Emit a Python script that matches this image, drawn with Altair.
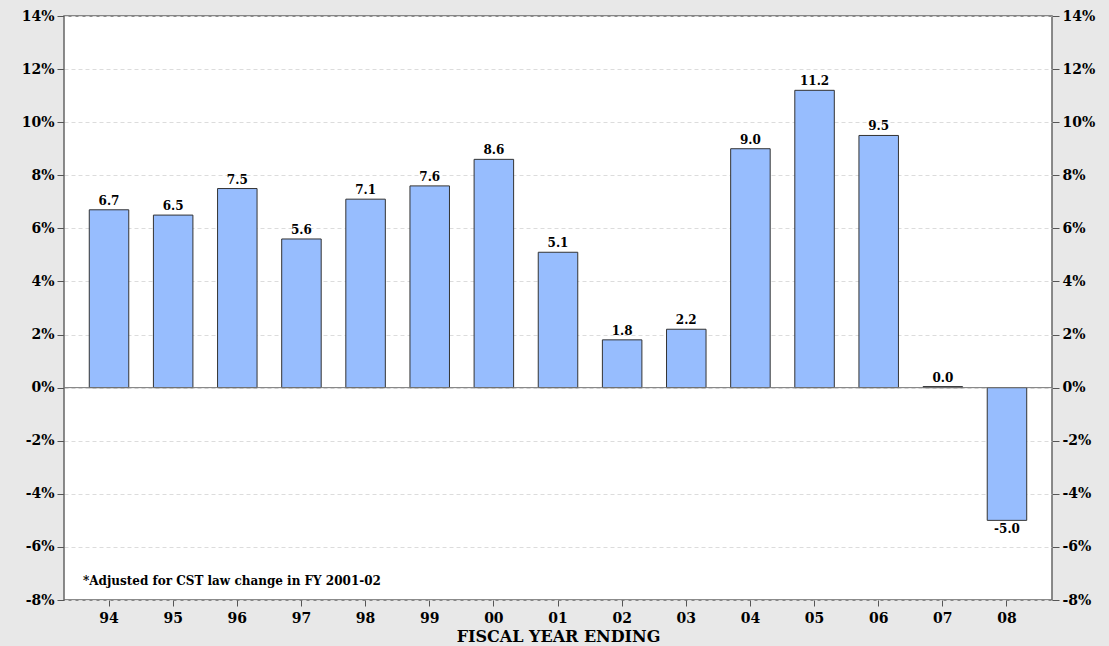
import altair as alt
import pandas as pd

years = ["94", "95", "96", "97", "98", "99", "00", "01", "02", "03", "04", "05", "06", "07", "08"]
values = [6.7, 6.5, 7.5, 5.6, 7.1, 7.6, 8.6, 5.1, 1.8, 2.2, 9.0, 11.2, 9.5, 0.04, -5.0]
y_ticks = [-8, -6, -4, -2, 0, 2, 4, 6, 8, 10, 12, 14]
footnote = "*Adjusted for CST law change in FY 2001-02"
x_title = "FISCAL YEAR ENDING"

df = pd.DataFrame({"year": years, "value": values})
df["pos"] = df["value"] >= 0
df["label"] = [f"{v:.1f}" for v in values]

FONT = "DejaVu Serif"

x_axis = alt.Axis(title=x_title, titleFont=FONT, titleFontSize=16, titleFontWeight="bold",
                  titleColor="#000", titlePadding=3,
                  labelFont=FONT, labelFontSize=14, labelFontWeight="bold", labelColor="#000",
                  labelAngle=0, labelPadding=5, tickColor="#555", tickSize=6,
                  domain=False, grid=False)
x_enc = alt.X("year:N", sort=years,
              scale=alt.Scale(paddingInner=0.384, paddingOuter=0.394),
              axis=x_axis)

yscale = alt.Scale(domain=[-8, 14], nice=False, zero=False)

def y_axis(orient, grid):
    return alt.Axis(orient=orient, values=y_ticks, labelExpr="datum.value + '%'",
                    labelFont=FONT, labelFontSize=14, labelFontWeight="bold", labelColor="#000",
                    tickColor="#555", tickSize=7, labelPadding=3,
                    domain=False, title=None,
                    grid=grid, gridColor="#dcdcdc", gridDash=[4, 3], gridWidth=1)

bars = alt.Chart(df).mark_bar(color="#97bdfe", stroke="#333", strokeWidth=1).encode(
    x=x_enc,
    y=alt.Y("value:Q", scale=yscale, axis=y_axis("left", True)),
)

zero = alt.Chart(pd.DataFrame({"z": [0]})).mark_rule(color="#777", strokeWidth=1).encode(
    y=alt.Y("z:Q", scale=yscale)
)

labels_pos = alt.Chart(df[df["pos"]]).mark_text(
    font=FONT, fontSize=12, fontWeight="bold", color="#000", baseline="bottom", dy=-2
).encode(
    x=x_enc,
    y=alt.Y("value:Q", scale=yscale),
    text="label:N",
)

labels_neg = alt.Chart(df[~df["pos"]]).mark_text(
    font=FONT, fontSize=12, fontWeight="bold", color="#000", baseline="top", dy=4
).encode(
    x=x_enc,
    y=alt.Y("value:Q", scale=yscale),
    text="label:N",
)

note = alt.Chart(pd.DataFrame({"t": [footnote]})).mark_text(
    font=FONT, fontSize=12, fontWeight="bold", color="#000", align="left", baseline="middle"
).encode(
    x=alt.value(19),
    y=alt.datum(-7.3, scale=yscale),
    text="t:N",
)

main = alt.layer(bars, zero, labels_pos, labels_neg, note)

right_axis = alt.Chart(df).mark_point(opacity=0).encode(
    x=x_enc,
    y=alt.Y("value:Q", scale=yscale, axis=y_axis("right", False)),
)

chart = alt.layer(main, right_axis).resolve_axis(
    y="independent"
).properties(
    width=988, height=584,
    background="#e8e8e8",
    padding={"left": 56, "top": 8, "right": 48, "bottom": 46},
    autosize=alt.AutoSizeParams(type="none"),
).configure_view(
    fill="white", stroke="#666", strokeWidth=1.5
)

chart.save("out.html", embed_options={"renderer": "svg", "actions": False})

with open("out.html", "r", encoding="utf-8") as f:
    html = f.read()
html = html.replace("<head>", "<head><style>html,body{background:#e8e8e8;overflow:hidden;}</style>", 1)
with open("out.html", "w", encoding="utf-8") as f:
    f.write(html)
